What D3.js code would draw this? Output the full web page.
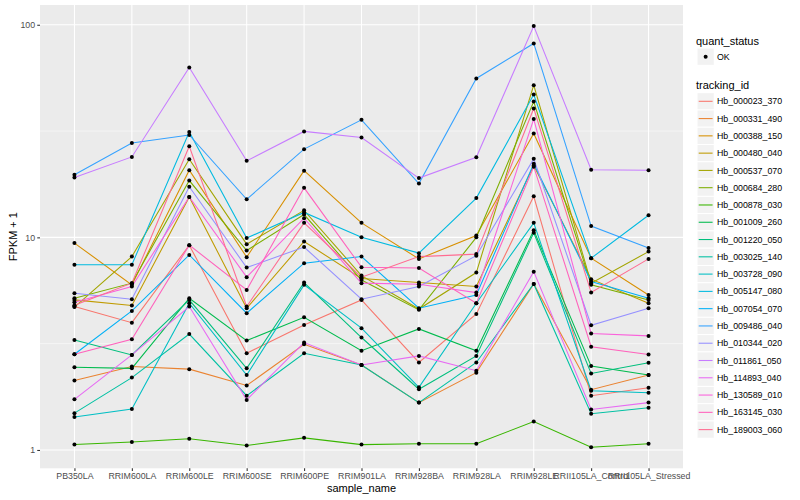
<!DOCTYPE html>
<meta charset="utf-8">
<head>
<style>
  body { margin: 0; background: #fff; }
  svg { font-family: "Liberation Sans", Arial, sans-serif; }
  .axis text { font-size: 8.8px; fill: #4d4d4d; }
  .axis line { stroke: #333; stroke-width: 1.07; }
  .axis path { display: none; }
  .grid-major { stroke: #fff; stroke-width: 1.07; }
  .grid-minor { stroke: #fff; stroke-width: 0.53; }
  .title { font-size: 11px; fill: #000; }
  .lab { font-size: 8.8px; fill: #000; }
</style>
</head>
<body>
<script src="https://d3js.org/d3.v7.min.js"></script>
<script>
// samples on the x axis
var samples = ["PB350LA", "RRIM600LA", "RRIM600LE", "RRIM600SE", "RRIM600PE",
  "RRIM901LA", "RRIM928BA", "RRIM928LA", "RRIM928LE", "RRII105LA_Control", "RRII105LA_Stressed"];

var trackingIds = ["Hb_000023_370", "Hb_000331_490", "Hb_000388_150", "Hb_000480_040",
  "Hb_000537_070", "Hb_000684_280", "Hb_000878_030", "Hb_001009_260", "Hb_001220_050",
  "Hb_003025_140", "Hb_003728_090", "Hb_005147_080", "Hb_007054_070", "Hb_009486_040",
  "Hb_010344_020", "Hb_011861_050", "Hb_114893_040", "Hb_130589_010", "Hb_163145_030",
  "Hb_189003_060"];

// FPKM + 1, one row per tracking id, one value per sample
var fpkm = [
  [4.73, 3.97, 9.19, 2.85, 3.87, 5.08, 2.58, 4.36, 15.6, 1.8, 1.96],
  [2.12, 2.47, 2.4, 2.01, 3.14, 2.51, 1.67, 2.31, 6.04, 1.92, 2.25],
  [9.4, 5.98, 20.7, 8.07, 20.6, 11.7, 7.92, 10.2, 30.8, 7.98, 5.36],
  [5.08, 4.78, 15.5, 4.64, 9.56, 6.4, 6.13, 5.87, 21.8, 6.36, 4.9],
  [4.7, 8.12, 23.3, 9.29, 13.4, 6.61, 4.6, 6.83, 52, 6.09, 8.57],
  [5.17, 6.09, 18.5, 8.67, 12.8, 6.3, 4.56, 10.0, 43.5, 5.98, 5.08],
  [1.06, 1.09, 1.13, 1.05, 1.14, 1.06, 1.07, 1.07, 1.36, 1.03, 1.07],
  [2.45, 2.42, 5.17, 3.27, 4.21, 2.93, 3.71, 2.93, 10.8, 2.48, 2.25],
  [3.29, 2.8, 5.08, 2.42, 6.13, 3.38, 1.93, 2.77, 10.5, 2.29, 2.57],
  [1.49, 2.19, 3.51, 1.8, 2.85, 2.51, 1.67, 2.58, 6.04, 1.48, 1.58],
  [1.43, 1.56, 4.9, 2.25, 5.98, 3.74, 1.97, 4.9, 11.7, 1.9, 1.86],
  [7.43, 7.43, 31.3, 9.92, 13.1, 10.0, 8.43, 15.3, 47, 7.98, 12.7],
  [2.82, 4.51, 8.27, 4.4, 7.56, 8.13, 4.64, 5.36, 22.2, 6.2, 5.17],
  [19.7, 27.8, 30.3, 15.1, 26.0, 35.7, 17.9, 55.9, 81.7, 11.3, 8.9],
  [5.46, 5.12, 17.3, 7.21, 9.0, 5.12, 5.87, 8.2, 23.4, 3.86, 4.64],
  [19.1, 23.9, 63, 22.9, 31.5, 29.5, 19.0, 23.8, 98.6, 20.8, 20.7],
  [1.73, 2.8, 4.73, 1.72, 3.2, 2.51, 2.77, 2.36, 6.9, 1.55, 1.67],
  [4.95, 5.87, 15.5, 6.5, 12.3, 6.09, 6.02, 5.5, 36, 3.53, 3.44],
  [2.82, 3.32, 9.19, 5.66, 17.1, 7.24, 7.18, 4.9, 21.5, 3.06, 2.81],
  [4.8, 6.09, 26.8, 4.73, 11.7, 6.5, 8.12, 8.34, 40.4, 5.5, 7.92]
];

var yTicks = [1, 10, 100];
var yMinor = [Math.pow(10, 0.5), Math.pow(10, 1.5)];

// ggplot hue palette for 20 groups
var palette = ["#F8766D", "#EA8331", "#D89000", "#C09B00", "#A3A500", "#7CAE00", "#39B600",
  "#00BB4E", "#00BF7D", "#00C1A3", "#00BFC4", "#00BAE0", "#00B0F6", "#35A2FF", "#9590FF",
  "#C77CFF", "#E76BF3", "#FA62DB", "#FF62BC", "#FF6C91"];

var panel = {left: 40, right: 683, top: 5, bottom: 468.3};

var svg = d3.select("body").append("svg")
    .attr("width", 800)
    .attr("height", 500);

// x: discrete, ggplot adds 0.6 of a step on both sides
var x = d3.scalePoint()
    .domain(samples)
    .range([panel.left, panel.right])
    .padding(0.6);

// y: log10 with 5% expansion of the data range
var all = d3.merge(fpkm);
var lo = Math.log10(d3.min(all)), hi = Math.log10(d3.max(all));
var pad = (hi - lo) * 0.05;
var y = d3.scaleLog()
    .domain([Math.pow(10, lo - pad), Math.pow(10, hi + pad)])
    .range([panel.bottom, panel.top]);

var color = d3.scaleOrdinal().domain(trackingIds).range(palette);

// panel background
svg.append("rect")
    .attr("x", panel.left).attr("y", panel.top)
    .attr("width", panel.right - panel.left)
    .attr("height", panel.bottom - panel.top)
    .attr("fill", "#EBEBEB");

// grid
svg.selectAll(".grid-minor").data(yMinor).enter().append("line")
    .attr("class", "grid-minor")
    .attr("x1", panel.left).attr("x2", panel.right)
    .attr("y1", function(d) { return y(d); }).attr("y2", function(d) { return y(d); });

svg.selectAll(".gy").data(yTicks).enter().append("line")
    .attr("class", "grid-major")
    .attr("x1", panel.left).attr("x2", panel.right)
    .attr("y1", function(d) { return y(d); }).attr("y2", function(d) { return y(d); });

svg.selectAll(".gx").data(samples).enter().append("line")
    .attr("class", "grid-major")
    .attr("y1", panel.top).attr("y2", panel.bottom)
    .attr("x1", function(d) { return x(d); }).attr("x2", function(d) { return x(d); });

// lines
var line = d3.line()
    .x(function(d, i) { return x(samples[i]); })
    .y(function(d) { return y(d); });

svg.append("g").selectAll("path")
    .data(fpkm)
  .enter().append("path")
    .attr("d", line)
    .attr("fill", "none")
    .attr("stroke", function(d, i) { return color(trackingIds[i]); })
    .attr("stroke-width", 1.07);

// points (quant_status OK)
var pts = [];
fpkm.forEach(function(row) {
  row.forEach(function(v, j) { pts.push({s: samples[j], v: v}); });
});
svg.append("g").selectAll("circle")
    .data(pts)
  .enter().append("circle")
    .attr("cx", function(d) { return x(d.s); })
    .attr("cy", function(d) { return y(d.v); })
    .attr("r", 2)
    .attr("fill", "#000");

// axes
svg.append("g")
    .attr("class", "axis")
    .attr("transform", "translate(" + panel.left + ",0)")
    .call(d3.axisLeft(y).tickValues(yTicks).tickFormat(d3.format("d"))
      .tickSize(2.75).tickPadding(2.2));

svg.append("g")
    .attr("class", "axis")
    .attr("transform", "translate(0," + panel.bottom + ")")
    .call(d3.axisBottom(x).tickSize(2.75).tickPadding(2.2));

svg.append("text")
    .attr("class", "title")
    .attr("x", (panel.left + panel.right) / 2)
    .attr("y", 492)
    .attr("text-anchor", "middle")
    .text("sample_name");

svg.append("text")
    .attr("class", "title")
    .attr("transform", "translate(17," + (panel.top + panel.bottom) / 2 + ") rotate(-90)")
    .attr("text-anchor", "middle")
    .text("FPKM + 1");

// legends
var lg = svg.append("g");
var keyX = 697, keySize = 17.28;

lg.append("text").attr("class", "title").attr("x", 696).attr("y", 44.5).text("quant_status");
lg.append("rect")
    .attr("x", keyX).attr("y", 56.7 - keySize / 2)
    .attr("width", keySize).attr("height", keySize)
    .attr("fill", "#F2F2F2").attr("stroke", "#fff");
lg.append("circle").attr("cx", keyX + keySize / 2).attr("cy", 56.7).attr("r", 2).attr("fill", "#000");
lg.append("text").attr("class", "lab").attr("x", 717).attr("y", 59.8).text("OK");

lg.append("text").attr("class", "title").attr("x", 696).attr("y", 89).text("tracking_id");

var keys = lg.selectAll(".key")
    .data(trackingIds)
  .enter().append("g")
    .attr("transform", function(d, i) { return "translate(0," + (101.3 + i * keySize) + ")"; });

keys.append("rect")
    .attr("x", keyX).attr("y", -keySize / 2)
    .attr("width", keySize).attr("height", keySize)
    .attr("fill", "#F2F2F2").attr("stroke", "#fff");

keys.append("line")
    .attr("x1", keyX + 1.7).attr("x2", keyX + keySize - 1.7)
    .attr("stroke", function(d) { return color(d); })
    .attr("stroke-width", 1.07);

keys.append("text")
    .attr("class", "lab")
    .attr("x", 717).attr("y", 3.1)
    .text(function(d) { return d; });
</script>
</body>
